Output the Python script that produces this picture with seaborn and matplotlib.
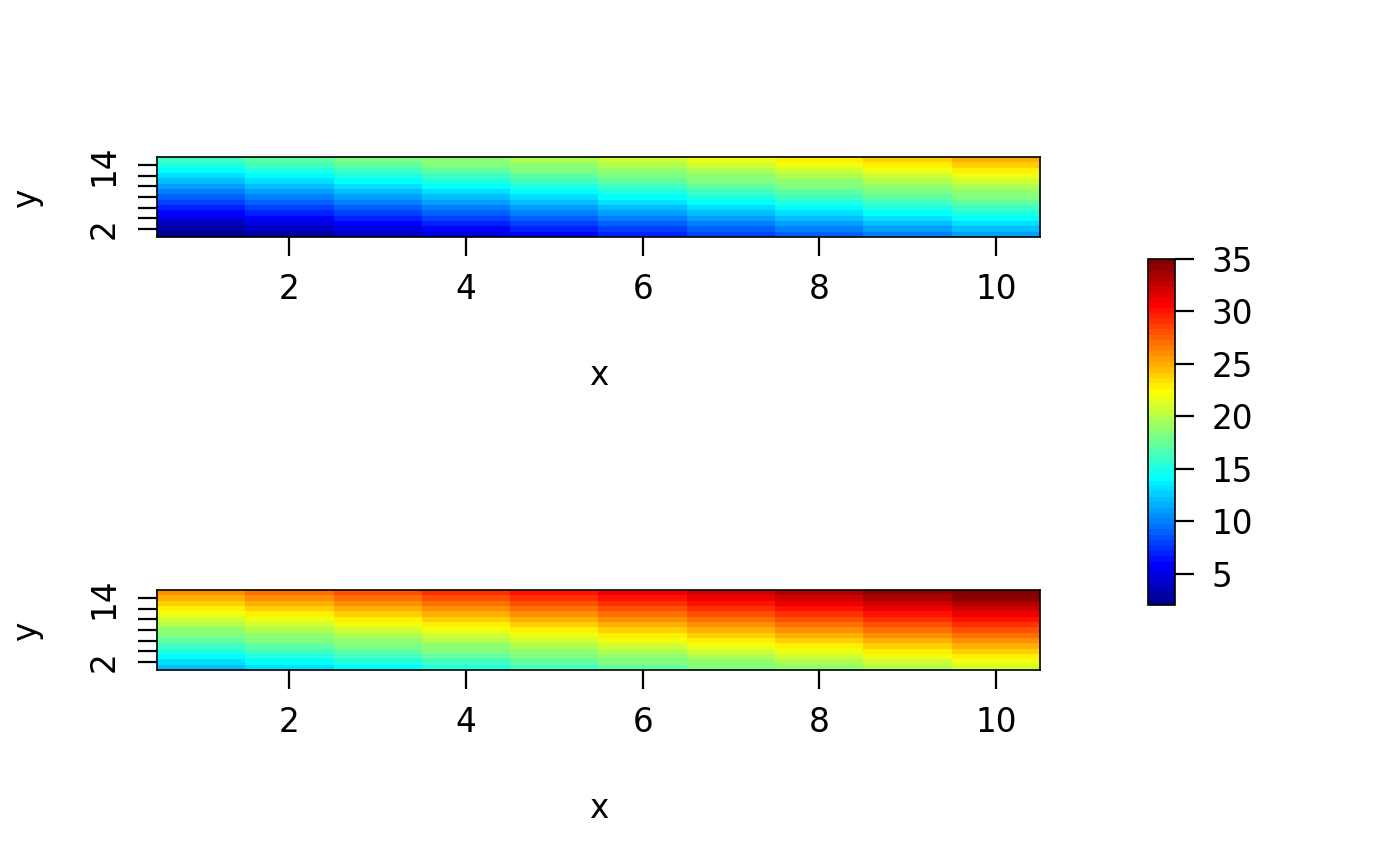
import numpy as np
import pandas as pd
import matplotlib
matplotlib.use("Agg")
import matplotlib.pyplot as plt
import seaborn as sns

# ─── DATA ────────────────────────────────────────────────────────────────────
x_vals = [1, 2, 3, 4, 5, 6, 7, 8, 9, 10]
y_vals = [1, 2, 3, 4, 5, 6, 7, 8, 9, 10, 11, 12, 13, 14, 15]

# rows = y (1..15), columns = x (1..10)
z_top = [
    [2, 3, 4, 5, 6, 7, 8, 9, 10, 11],
    [3, 4, 5, 6, 7, 8, 9, 10, 11, 12],
    [4, 5, 6, 7, 8, 9, 10, 11, 12, 13],
    [5, 6, 7, 8, 9, 10, 11, 12, 13, 14],
    [6, 7, 8, 9, 10, 11, 12, 13, 14, 15],
    [7, 8, 9, 10, 11, 12, 13, 14, 15, 16],
    [8, 9, 10, 11, 12, 13, 14, 15, 16, 17],
    [9, 10, 11, 12, 13, 14, 15, 16, 17, 18],
    [10, 11, 12, 13, 14, 15, 16, 17, 18, 19],
    [11, 12, 13, 14, 15, 16, 17, 18, 19, 20],
    [12, 13, 14, 15, 16, 17, 18, 19, 20, 21],
    [13, 14, 15, 16, 17, 18, 19, 20, 21, 22],
    [14, 15, 16, 17, 18, 19, 20, 21, 22, 23],
    [15, 16, 17, 18, 19, 20, 21, 22, 23, 24],
    [16, 17, 18, 19, 20, 21, 22, 23, 24, 25],
]
z_bottom = [
    [12, 13, 14, 15, 16, 17, 18, 19, 20, 21],
    [13, 14, 15, 16, 17, 18, 19, 20, 21, 22],
    [14, 15, 16, 17, 18, 19, 20, 21, 22, 23],
    [15, 16, 17, 18, 19, 20, 21, 22, 23, 24],
    [16, 17, 18, 19, 20, 21, 22, 23, 24, 25],
    [17, 18, 19, 20, 21, 22, 23, 24, 25, 26],
    [18, 19, 20, 21, 22, 23, 24, 25, 26, 27],
    [19, 20, 21, 22, 23, 24, 25, 26, 27, 28],
    [20, 21, 22, 23, 24, 25, 26, 27, 28, 29],
    [21, 22, 23, 24, 25, 26, 27, 28, 29, 30],
    [22, 23, 24, 25, 26, 27, 28, 29, 30, 31],
    [23, 24, 25, 26, 27, 28, 29, 30, 31, 32],
    [24, 25, 26, 27, 28, 29, 30, 31, 32, 33],
    [25, 26, 27, 28, 29, 30, 31, 32, 33, 34],
    [26, 27, 28, 29, 30, 31, 32, 33, 34, 35],
]
z_min, z_max = 2, 35

x_ticks = [2, 4, 6, 8, 10]
y_major = [2, 14]
y_minor = [4, 6, 8, 10, 12]
cbar_ticks = [5, 10, 15, 20, 25, 30, 35]

# tim.colors(64)-style palette
tim_colors = [
    "#00008F", "#00009F", "#0000AF", "#0000BF", "#0000CF", "#0000DF", "#0000EF", "#0000FF",
    "#0010FF", "#0020FF", "#0030FF", "#0040FF", "#0050FF", "#0060FF", "#0070FF", "#0080FF",
    "#008FFF", "#009FFF", "#00AFFF", "#00BFFF", "#00CFFF", "#00DFFF", "#00EFFF", "#00FFFF",
    "#10FFEF", "#20FFDF", "#30FFCF", "#40FFBF", "#50FFAF", "#60FF9F", "#70FF8F", "#80FF80",
    "#8FFF70", "#9FFF60", "#AFFF50", "#BFFF40", "#CFFF30", "#DFFF20", "#EFFF10", "#FFFF00",
    "#FFEF00", "#FFDF00", "#FFCF00", "#FFBF00", "#FFAF00", "#FF9F00", "#FF8F00", "#FF8000",
    "#FF7000", "#FF6000", "#FF5000", "#FF4000", "#FF3000", "#FF2000", "#FF1000", "#FF0000",
    "#EF0000", "#DF0000", "#CF0000", "#BF0000", "#AF0000", "#9F0000", "#8F0000", "#800000",
]

# ─── STYLE ───────────────────────────────────────────────────────────────────
sns.set_style("white")
plt.rcParams["font.family"] = ["DejaVu Sans"]
plt.rcParams["text.color"] = "black"
plt.rcParams["axes.labelcolor"] = "black"
FS = 23.5

fig = plt.figure(figsize=(14, 8.66), dpi=100)
ax_top = fig.add_axes([0.1121, 0.7263, 0.6307, 0.0924])
ax_bot = fig.add_axes([0.1121, 0.2263, 0.6307, 0.0924])
cax = fig.add_axes([0.8200, 0.3014, 0.0193, 0.3995])


def draw_panel(ax, z, cbar_ax=None):
    df = pd.DataFrame(z, index=y_vals, columns=x_vals)
    sns.heatmap(df, ax=ax, cmap=tim_colors, vmin=z_min, vmax=z_max,
                cbar=cbar_ax is not None, cbar_ax=cbar_ax,
                xticklabels=False, yticklabels=False)
    ax.set_ylim(0, len(y_vals))
    ax.set_xlim(0, len(x_vals))
    # heatmap cell i is centred on i + 0.5
    ax.set_xticks([x_vals.index(v) + 0.5 for v in x_ticks])
    ax.set_xticklabels([str(v) for v in x_ticks], fontsize=FS)
    ax.set_yticks([y_vals.index(v) + 0.5 for v in y_major])
    ax.set_yticklabels([str(v) for v in y_major], fontsize=FS,
                       rotation=90, va="center")
    ax.set_yticks([y_vals.index(v) + 0.5 for v in y_minor], minor=True)
    ax.tick_params(axis="x", which="major", direction="out", length=14,
                   width=1.6, pad=12, bottom=True, colors="black")
    ax.tick_params(axis="y", which="both", direction="out", length=14,
                   width=1.6, pad=12, left=True, colors="black")
    ax.set_xlabel("x", fontsize=FS, labelpad=38, color="black")
    ax.set_ylabel("y", fontsize=FS, labelpad=32, color="black")
    for sp in ax.spines.values():
        sp.set_visible(True)
        sp.set_color("black")
        sp.set_linewidth(1.2)


draw_panel(ax_top, z_top, cbar_ax=cax)
draw_panel(ax_bot, z_bottom)

cb = ax_top.collections[0].colorbar
cb.set_ticks(cbar_ticks)
cb.ax.tick_params(labelsize=FS, length=14, width=1.6, pad=12, colors="black")
cb.outline.set_visible(True)
cb.outline.set_edgecolor("black")
cb.outline.set_linewidth(1.2)

plt.savefig("out.png", dpi=100)
